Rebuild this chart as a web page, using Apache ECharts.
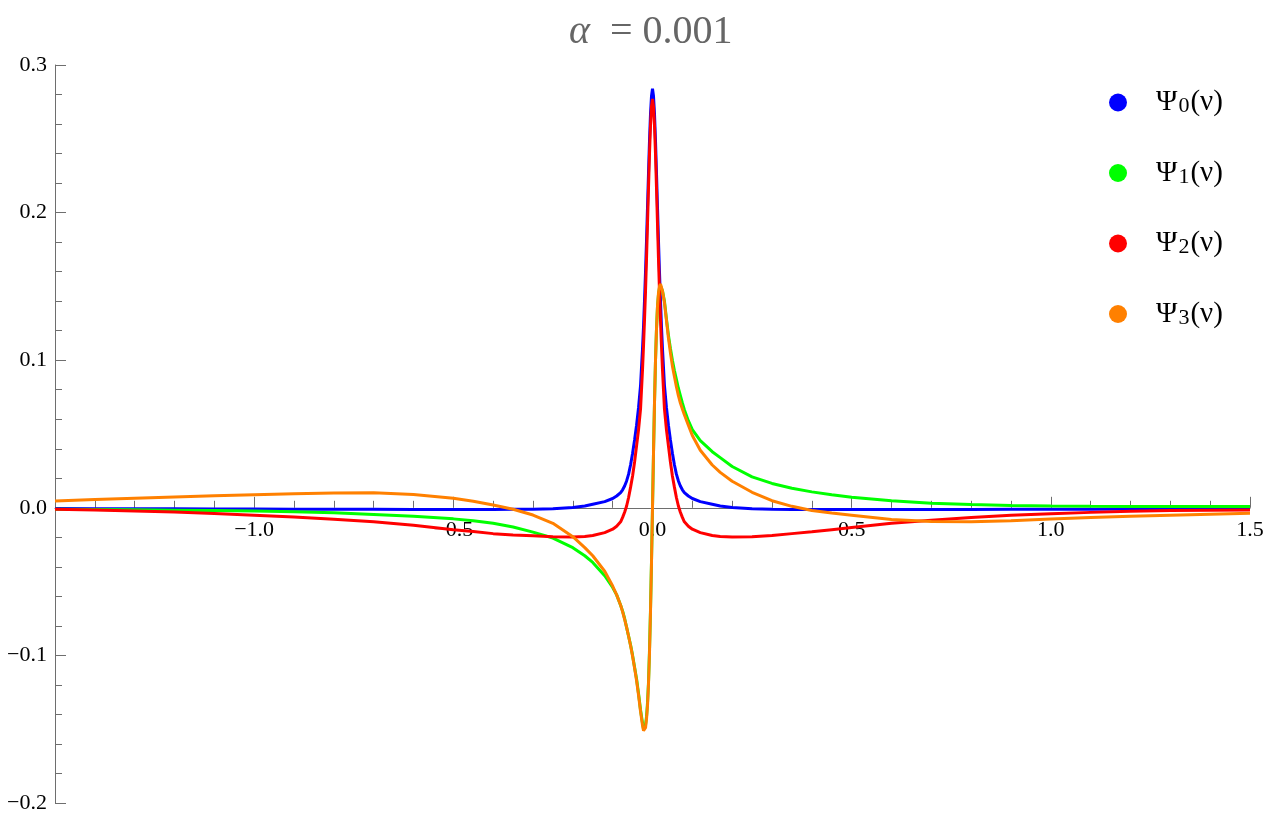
<!DOCTYPE html>
<html>
<head>
<meta charset="utf-8">
<title>alpha = 0.001</title>
<script src="https://cdn.jsdelivr.net/npm/echarts@6/dist/echarts.min.js"></script>
<style>
  html, body { margin: 0; padding: 0; background: #fff; }
  #chart { width: 1269px; height: 820px; }
</style>
</head>
<body>
<div id="chart"></div>
<script>
// 采样点 (nu)
const xs = [
  -1.5, -1.4, -1.3, -1.2, -1.1, -1.0, -0.9, -0.8, -0.7, -0.6, -0.5, -0.45, -0.4, -0.35, -0.3,
  -0.25, -0.2, -0.17, -0.15, -0.12, -0.1, -0.09, -0.08, -0.075, -0.07, -0.065, -0.06, -0.055,
  -0.05, -0.045, -0.04, -0.035, -0.03, -0.025, -0.0225, -0.02, -0.0175, -0.015, -0.0125, -0.01,
  -0.0075, -0.005, -0.0025,
  0,
  0.0025, 0.005, 0.0075, 0.01, 0.0125, 0.015, 0.0175, 0.02, 0.0225, 0.025, 0.03, 0.035, 0.04,
  0.045, 0.05, 0.055, 0.06, 0.065, 0.07, 0.075, 0.08, 0.09, 0.1, 0.12, 0.15, 0.17, 0.2, 0.25,
  0.3, 0.35, 0.4, 0.45, 0.5, 0.6, 0.7, 0.8, 0.9, 1.0, 1.1, 1.2, 1.3, 1.4, 1.5
];

const psi0 = [
  -0.0005, -0.0006, -0.0006, -0.0007, -0.0008, -0.0008, -0.0009, -0.0010, -0.0010, -0.0011, -0.0011,
  -0.0011, -0.0011, -0.0010, -0.0009, -0.0006, 0.0002, 0.0012, 0.0024, 0.0042, 0.0063, 0.0080,
  0.0103, 0.0122, 0.0148, 0.0182, 0.0228, 0.0292, 0.0370, 0.0460, 0.0560, 0.0680, 0.0830, 0.1080,
  0.1230, 0.1410, 0.1600, 0.1810, 0.2040, 0.2270, 0.2490, 0.2670, 0.2790,
  0.2840,
  0.2790, 0.2670, 0.2490, 0.2270, 0.2040, 0.1810, 0.1600, 0.1410, 0.1230, 0.1080, 0.0830, 0.0680,
  0.0560, 0.0460, 0.0370, 0.0292, 0.0228, 0.0182, 0.0148, 0.0122, 0.0103, 0.0080, 0.0063, 0.0042,
  0.0024, 0.0012, 0.0002, -0.0006, -0.0009, -0.0011, -0.0011, -0.0011, -0.0011, -0.0011, -0.0011,
  -0.0011, -0.0010, -0.0010, -0.0009, -0.0008, -0.0007, -0.0006, -0.0005
];

const psi1 = [
  -0.0010, -0.0012, -0.0014, -0.0016, -0.0019, -0.0022, -0.0027, -0.0034, -0.0045, -0.0058, -0.0075,
  -0.0088, -0.0105, -0.0130, -0.0165, -0.0205, -0.0270, -0.0325, -0.0370, -0.0460, -0.0540, -0.0590,
  -0.0660, -0.0700, -0.0750, -0.0810, -0.0870, -0.0930, -0.1000, -0.1080, -0.1160, -0.1260, -0.1370,
  -0.1460, -0.1500, -0.1500, -0.1470, -0.1415, -0.1320, -0.1180, -0.0960, -0.0690, -0.0360,
  0,
  0.0369, 0.0708, 0.0995, 0.1210, 0.1360, 0.1445, 0.1490, 0.1505, 0.1500, 0.1470, 0.1400, 0.1280,
  0.1170, 0.1080, 0.1000, 0.0930, 0.0870, 0.0810, 0.0760, 0.0710, 0.0665, 0.0590, 0.0530, 0.0455,
  0.0380, 0.0340, 0.0280, 0.0210, 0.0165, 0.0133, 0.0108, 0.0088, 0.0071, 0.0048, 0.0031, 0.0022,
  0.0016, 0.0012, 0.0010, 0.0009, 0.0009, 0.0008, 0.0008
];

const psi2 = [
  -0.0010, -0.0015, -0.0021, -0.0028, -0.0038, -0.0050, -0.0063, -0.0078, -0.0095, -0.0118, -0.0148,
  -0.0160, -0.0175, -0.0184, -0.0190, -0.0196, -0.0198, -0.0195, -0.0188, -0.0168, -0.0145, -0.0125,
  -0.0095, -0.0065, -0.0030, 0.0012, 0.0070, 0.0140, 0.0215, 0.0310, 0.0420, 0.0530, 0.0670, 0.0940,
  0.1100, 0.1280, 0.1470, 0.1690, 0.1930, 0.2170, 0.2400, 0.2590, 0.2720,
  0.2770,
  0.2720, 0.2590, 0.2400, 0.2170, 0.1930, 0.1690, 0.1470, 0.1280, 0.1100, 0.0940, 0.0670, 0.0530,
  0.0420, 0.0310, 0.0215, 0.0140, 0.0070, 0.0012, -0.0030, -0.0065, -0.0095, -0.0125, -0.0145,
  -0.0168, -0.0188, -0.0195, -0.0198, -0.0196, -0.0188, -0.0175, -0.0163, -0.0148, -0.0133, -0.0105,
  -0.0084, -0.0065, -0.0050, -0.0040, -0.0031, -0.0023, -0.0019, -0.0016, -0.0015
];

const psi3 = [
  0.0046, 0.0056, 0.0065, 0.0074, 0.0082, 0.0089, 0.0095, 0.0100, 0.0102, 0.0090, 0.0064, 0.0045,
  0.0019, -0.0010, -0.0049, -0.0105, -0.0196, -0.0270, -0.0325, -0.0430, -0.0530, -0.0590, -0.0660,
  -0.0705, -0.0755, -0.0810, -0.0870, -0.0935, -0.1005, -0.1085, -0.1170, -0.1270, -0.1380, -0.1475,
  -0.1510, -0.1515, -0.1490, -0.1430, -0.1340, -0.1190, -0.0980, -0.0700, -0.0370,
  0,
  0.0370, 0.0710, 0.0995, 0.1210, 0.1365, 0.1455, 0.1500, 0.1516, 0.1505, 0.1470, 0.1390, 0.1270,
  0.1150, 0.1050, 0.0960, 0.0890, 0.0820, 0.0760, 0.0710, 0.0670, 0.0630, 0.0560, 0.0490, 0.0390,
  0.0290, 0.0240, 0.0180, 0.0105, 0.0048, 0.0010, -0.0018, -0.0035, -0.0050, -0.0080, -0.0092,
  -0.0094, -0.0088, -0.0076, -0.0066, -0.0057, -0.0050, -0.0043, -0.0037
];

const seriesNames = ["Ψ0(ν)", "Ψ1(ν)", "Ψ2(ν)", "Ψ3(ν)"];
const seriesSubs = ["0", "1", "2", "3"];
const seriesColors = ["#0000ff", "#00ff00", "#ff0000", "#ff8000"];
const seriesValues = [psi0, psi1, psi2, psi3];

const fontFamily = "'Liberation Serif', 'DejaVu Serif', serif";
const axisColor = "#6e6e6e";

const gridTop = 65;
const gridBottom = 17;
const yMin = -0.2;
const yMax = 0.3;

// 数字格式, 负号用 −
function fmtTick(v) {
  return v.toFixed(1).replace("-", "\u2212");
}

const chart = echarts.init(document.getElementById("chart"));

// x 轴的刻度文字放在 y=0 的轴线下面
const plotHeight = 820 - gridTop - gridBottom;
const zeroOffset = -plotHeight * (0 - yMin) / (yMax - yMin);

const option = {
  animation: false,
  backgroundColor: "#fff",
  title: {
    text: "{i|α}  = 0.001",
    left: 564,
    top: 7,
    textStyle: {
      fontFamily: fontFamily,
      fontSize: 40,
      fontWeight: "normal",
      color: "#666",
      rich: {
        i: { fontFamily: fontFamily, fontSize: 40, fontStyle: "italic", color: "#666" },
      },
    },
  },
  legend: {
    orient: "vertical",
    left: 1109,
    top: 88,
    padding: 0,
    itemGap: 41,
    itemWidth: 18,
    itemHeight: 18,
    icon: "circle",
    data: seriesNames,
    formatter: (name) => {
      const sub = seriesSubs[seriesNames.indexOf(name)];
      return "{g|}{b|Ψ}{s|" + sub + "}{b|(ν)}";
    },
    textStyle: {
      color: "#000",
      rich: {
        g: { width: 24, height: 30 },
        b: { fontFamily: fontFamily, fontSize: 29, lineHeight: 30, color: "#000" },
        s: { fontFamily: fontFamily, fontSize: 22, lineHeight: 30, verticalAlign: "bottom", padding: [3, 1, 0, 1], color: "#000" },
      },
    },
  },
  grid: {
    left: 55,
    right: 19,
    top: gridTop,
    bottom: gridBottom,
  },
  xAxis: [
    {
      type: "value",
      min: -1.5,
      max: 1.5,
      interval: 0.5,
      axisLine: { onZero: true, lineStyle: { color: axisColor, width: 1 } },
      axisTick: { inside: true, length: 11, lineStyle: { color: axisColor } },
      minorTick: { show: true, splitNumber: 5, length: 7, lineStyle: { color: axisColor } },
      splitLine: { show: false },
      axisLabel: { show: false },
    },
    {
      type: "value",
      position: "bottom",
      offset: zeroOffset,
      min: -1.5,
      max: 1.5,
      interval: 0.5,
      axisLine: { show: false, onZero: false },
      axisTick: { show: false },
      splitLine: { show: false },
      axisLabel: {
        showMinLabel: false,
        margin: 11,
        color: "#000",
        fontFamily: fontFamily,
        fontSize: 22,
        formatter: fmtTick,
      },
    },
  ],
  yAxis: {
    type: "value",
    min: yMin,
    max: yMax,
    interval: 0.1,
    axisLine: { show: true, onZero: false, lineStyle: { color: axisColor, width: 1 } },
    axisTick: { show: true, inside: true, length: 11, lineStyle: { color: axisColor } },
    minorTick: { show: true, splitNumber: 5, length: 7, lineStyle: { color: axisColor } },
    splitLine: { show: false },
    axisLabel: {
      margin: 8,
      color: "#000",
      fontFamily: fontFamily,
      fontSize: 22,
      formatter: fmtTick,
    },
  },
  series: seriesNames.map((name, k) => ({
    name: name,
    type: "line",
    xAxisIndex: 0,
    showSymbol: false,
    color: seriesColors[k],
    lineStyle: { width: 3, color: seriesColors[k] },
    data: xs.map((x, i) => [x, seriesValues[k][i]]),
  })),
};

chart.setOption(option);
</script>
</body>
</html>
